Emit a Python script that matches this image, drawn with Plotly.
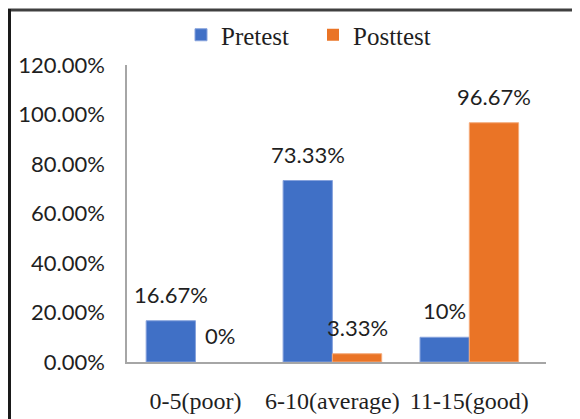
import plotly.graph_objects as go

categories = ["0-5(poor)", "6-10(average)", "11-15(good)"]
pretest = [0.1667, 0.7333, 0.10]
posttest = [0.0, 0.0333, 0.9667]
pretest_labels = ["16.67%", "73.33%", "10%"]
posttest_labels = ["0%", "3.33%", "96.67%"]
y_ticks = [0, 0.2, 0.4, 0.6, 0.8, 1.0, 1.2]

SERIF = "Liberation Serif, Times New Roman, serif"
SANS = "Lato, Calibri, sans-serif"

# The page body has an 8px default margin; the figure is sized to fit the window.
OFF = 8
W, H = 580 - OFF, 419 - OFF
PLOT_L, PLOT_R, PLOT_T, PLOT_B = 127 - OFF, 546 - OFF, 65 - OFF, 362 - OFF
ML, MR, MT, MB = PLOT_L, W - PLOT_R, PLOT_T, H - PLOT_B
pw = W - ML - MR
ph = H - MT - MB


def px_x(px):
    return (px - OFF - ML) / pw


def px_y(py):
    return (H - MB - (py - OFF)) / ph


fig = go.Figure()
fig.add_trace(go.Bar(
    name="Pretest", x=categories, y=pretest, legend="legend",
    marker=dict(color="#4070C6",
                line=dict(color="#86A2DC", width=[0 if v == 0 else 1 for v in pretest])),
))
fig.add_trace(go.Bar(
    name="Posttest", x=categories, y=posttest, legend="legend2",
    marker=dict(color="#EA7426",
                line=dict(color="#F4AA7A", width=[0 if v == 0 else 1 for v in posttest])),
))

half = 0.18
annotations = []
for i in range(len(categories)):
    for off, vals, labs in ((-half, pretest, pretest_labels), (half, posttest, posttest_labels)):
        annotations.append(dict(
            x=i + off, y=vals[i], xref="x", yref="y", text=labs[i],
            showarrow=False, yanchor="bottom", yshift=11,
            font=dict(family=SANS, size=22, color="#1f1f1f"),
        ))

shapes = [
    dict(type="line", xref="paper", yref="paper",
         x0=px_x(8), x1=px_x(600),
         y0=px_y(10), y1=px_y(10),
         line=dict(color="#404040", width=3)),
    dict(type="line", xref="paper", yref="paper",
         x0=px_x(9.5), x1=px_x(9.5),
         y0=px_y(9), y1=px_y(440),
         line=dict(color="#1a1a1a", width=3)),
]

leg_common = dict(orientation="h", xanchor="left", yanchor="middle",
                  font=dict(family=SERIF, size=25, color="#1f1f1f"),
                  bgcolor="rgba(0,0,0,0)", itemwidth=30)

fig.update_layout(
    width=W, height=H,
    margin=dict(l=ML, r=MR, t=MT, b=MB, autoexpand=False),
    paper_bgcolor="white", plot_bgcolor="white",
    font=dict(family=SERIF, size=24, color="#1f1f1f"),
    barmode="group", bargap=0.28, bargroupgap=0,
    showlegend=True,
    legend=dict(x=px_x(181), y=px_y(35), **leg_common),
    legend2=dict(x=px_x(313), y=px_y(35), **leg_common),
    xaxis=dict(range=[-0.5, 2.56], showgrid=False, zeroline=False,
               showline=True, linecolor="#A6A6A6", linewidth=1.5,
               ticks="", ticklabelstandoff=16, fixedrange=True,
               tickfont=dict(family=SERIF, size=24, color="#1f1f1f")),
    yaxis=dict(range=[0, 1.2], tickvals=y_ticks, tickformat=".2%",
               showgrid=False, zeroline=False,
               showline=True, linecolor="#A6A6A6", linewidth=1.5,
               ticks="", ticklabelstandoff=16, fixedrange=True,
               tickfont=dict(family=SANS, size=22, color="#1f1f1f")),
    annotations=annotations,
    shapes=shapes,
)

fig.write_html("out.html")
